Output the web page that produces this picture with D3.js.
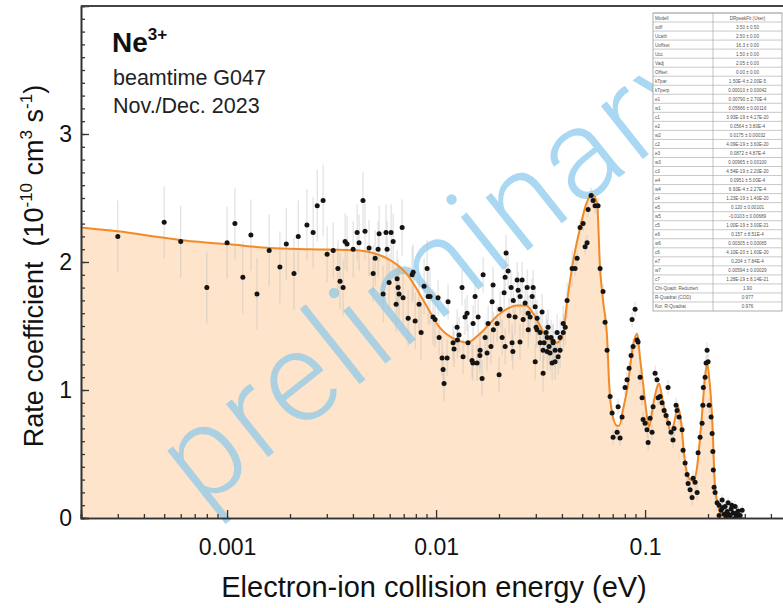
<!DOCTYPE html>
<html>
<head>
<meta charset="utf-8">
<script src="https://cdn.jsdelivr.net/npm/d3@7/dist/d3.min.js"></script>
<style>
  html, body { margin: 0; padding: 0; background: #fff; }
  svg { display: block; font-family: "Liberation Sans", Arial, Helvetica, sans-serif; }
</style>
</head>
<body>
<svg id="chart" width="783" height="608"></svg>
<script>
// Fitted DR rate coefficient (orange line), energy in eV, rate in 1e-10 cm^3 s^-1
const fitEnergy = [0.0002, 0.0003, 0.0005, 0.0007, 0.001, 0.0016, 0.0025, 0.0043, 0.0050, 0.0058,
  0.0066, 0.0073, 0.0087, 0.0104, 0.0126, 0.0141, 0.0162, 0.0203, 0.0244, 0.0270,
  0.0291, 0.0340, 0.0380, 0.0406, 0.0424, 0.0452, 0.0489, 0.0522, 0.0558, 0.0589,
  0.0609, 0.0629, 0.0658, 0.0673, 0.0695, 0.0735, 0.0751, 0.0785, 0.0829, 0.0876,
  0.0916, 0.0946, 0.0978, 0.1022, 0.1045, 0.1092, 0.1141, 0.1167, 0.1219, 0.1273,
  0.1331, 0.1376, 0.1438, 0.1487, 0.1537, 0.1606, 0.1697, 0.1774, 0.1853, 0.1937,
  0.1980, 0.2025, 0.2093, 0.2162, 0.2235, 0.2337, 0.2552, 0.3010];
const fitRate = [2.27, 2.24, 2.19, 2.16, 2.14, 2.11, 2.10, 2.09, 2.07, 2.03,
  1.97, 1.90, 1.70, 1.49, 1.39, 1.37, 1.44, 1.60, 1.66, 1.66,
  1.60, 1.41, 1.37, 1.45, 1.70, 2.00, 2.27, 2.45, 2.53, 2.46,
  1.95, 1.70, 1.41, 1.05, 0.82, 0.72, 0.72, 0.85, 1.05, 1.35,
  1.44, 1.25, 1.05, 0.79, 0.71, 0.88, 1.02, 1.05, 0.90, 0.78,
  0.67, 0.74, 0.87, 0.75, 0.50, 0.32, 0.29, 0.40, 0.72, 1.10,
  1.21, 1.10, 0.79, 0.24, 0.10, 0.03, 0.00, 0.00];

// Measured merged-beam rate coefficients [energy (eV), rate]
const measured = [
  [3.0e-4,2.20],[5.0e-4,2.31],[6.0e-4,2.16],[8.0e-4,1.80],[1.0e-3,2.15],[1.09e-3,2.30],[1.19e-3,1.88],
  [1.30e-3,2.21],[1.39e-3,1.75],[1.59e-3,2.09],[1.79e-3,1.96],[1.92e-3,2.14],[2.09e-3,1.91],[2.19e-3,2.20],
  [2.41e-3,2.29],[2.58e-3,2.23],[2.70e-3,2.44],[2.88e-3,2.48],[3.01e-3,2.06],[3.22e-3,2.09],[3.39e-3,1.95],
  [3.47e-3,1.85],[3.59e-3,1.80],[3.67e-3,2.16],[3.75e-3,2.14],[4.01e-3,2.10],[4.19e-3,2.23],[4.28e-3,2.15],
  [4.47e-3,2.48],[4.57e-3,2.24],[4.78e-3,2.11],[5.00e-3,1.91],[5.11e-3,2.03],[5.28e-3,2.10],[5.34e-3,2.22],
  [5.58e-3,1.75],[5.76e-3,2.23],[5.83e-3,2.10],[5.96e-3,1.84],[6.09e-3,2.23],[6.23e-3,2.16],[6.44e-3,1.67],
  [6.51e-3,1.87],[6.58e-3,1.80],[6.65e-3,1.75],[6.88e-3,2.27],[6.95e-3,1.72],[7.35e-3,1.56],[7.68e-3,1.90],
  [7.77e-3,1.92],[7.94e-3,1.54],[8.29e-3,1.67],[8.48e-3,1.45],[8.76e-3,1.81],[9.06e-3,1.95],[9.16e-3,1.73],
  [9.36e-3,1.73],[9.67e-3,1.57],[9.89e-3,1.55],
  [0.01022,1.72],[0.01034,1.41],[0.01068,1.25],[0.01080,1.16],[0.01092,1.05],[0.01129,1.25],[0.01141,1.69],
  [0.01206,1.37],[0.01219,1.32],[0.01260,1.49],[0.01265,1.39],[0.01288,1.43],[0.01331,1.80],[0.01346,1.26],
  [0.01376,1.57],[0.01407,1.60],[0.01422,1.37],[0.01486,1.23],[0.01500,1.21],[0.01503,1.52],[0.01537,1.73],
  [0.01571,1.21],[0.01589,1.57],[0.01620,1.27],[0.01624,1.31],[0.01660,1.09],[0.01679,1.90],[0.01716,1.41],
  [0.01754,1.29],[0.01774,1.52],[0.01830,1.34],[0.01854,1.69],[0.01874,1.82],[0.01880,1.47],[0.01958,1.52],
  [0.02002,1.12],[0.02025,1.63],[0.02070,1.41],[0.02116,1.76],[0.02139,1.88],[0.02140,1.34],[0.02162,2.07],
  [0.02211,1.93],[0.02235,1.58],[0.02285,1.80],[0.02310,1.37],[0.02330,1.30],[0.02340,1.70],[0.02388,1.57],
  [0.02442,1.86],[0.02469,1.78],[0.02520,1.375],[0.02524,1.73],[0.02580,1.86],[0.02609,1.55],[0.02667,1.68],
  [0.02727,1.80],[0.02757,1.60],[0.02760,1.47],[0.02818,1.57],[0.02881,1.73],[0.02913,1.80],[0.02978,1.65],
  [0.02980,1.22],[0.03010,1.49],[0.03040,1.47],[0.03044,1.56],[0.03145,1.45],[0.03150,1.37],[0.03215,1.61],
  [0.03251,1.13],[0.03250,1.31],[0.03287,1.37],[0.03360,1.45],[0.03398,1.30],[0.03400,1.41],[0.03435,1.49],
  [0.03473,1.34],[0.03510,1.29],[0.03551,1.41],[0.03590,1.21],[0.03630,1.38],[0.03630,1.37],[0.03711,1.31],
  [0.03710,1.22],[0.03794,1.45],[0.03836,1.26],[0.03920,1.31],[0.03921,1.41],[0.04055,1.52],[0.04060,1.45],
  [0.04150,1.49],
  [0.04235,1.70],[0.04474,1.95],[0.04624,1.95],[0.04728,2.03],[0.04887,2.27],[0.05051,2.30],[0.05164,2.12],
  [0.05279,2.15],[0.05338,2.41],[0.05516,2.52],[0.05639,2.48],[0.05765,2.44],[0.05958,2.44],[0.06091,1.95],
  [0.06294,1.77],[0.06435,1.53],[0.06579,1.31],[0.06800,0.95],[0.06953,0.82],[0.07030,0.63],[0.07345,0.67],
  [0.07426,0.87],[0.07592,0.625],[0.07761,0.79],[0.08021,1.02],[0.08199,1.08],[0.08382,1.17],[0.08569,1.27],
  [0.08664,1.55],[0.08760,1.34],[0.08956,1.63],[0.09155,1.39],[0.09257,1.375],[0.09463,1.10],[0.09675,0.94],
  [0.09782,0.77],[0.1000,0.74],[0.1022,0.69],[0.1034,0.59],[0.1057,0.78],[0.1080,0.67],[0.1092,0.87],
  [0.1116,1.13],[0.1141,1.08],[0.1154,0.94],[0.1180,0.95],[0.1206,0.90],[0.1233,0.84],[0.1260,0.80],
  [0.1288,1.02],[0.1295,0.74],[0.1331,0.67],[0.1361,0.61],[0.1376,0.70],[0.1407,0.88],[0.1422,0.84],
  [0.1454,0.79],[0.1503,0.69],[0.1520,0.53],[0.1554,0.43],[0.1589,0.34],[0.1606,0.27],[0.1642,0.22],
  [0.1678,0.16],[0.1697,0.31],[0.1735,0.28],[0.1774,0.20],[0.1793,0.51],[0.1833,0.63],[0.1874,0.74],
  [0.1890,0.88],[0.1900,1.02],[0.1937,1.10],[0.1958,1.21],[0.1980,1.31],[0.2002,1.22],[0.2025,0.88],
  [0.2070,0.79],[0.2093,0.66],[0.2110,0.52],[0.2120,0.375],[0.2139,0.24],[0.2162,0.20],[0.2211,0.12],
  [0.2260,0.10],[0.2310,0.06],[0.2337,0.14],[0.2390,0.03],[0.2414,0.09],[0.2440,0.00],[0.2468,0.05],
  [0.2496,0.12],[0.2552,0.02],[0.2580,0.07],[0.2638,0.04],[0.2650,-0.01],[0.2696,0.09],[0.2726,0.01],
  [0.2787,0.055],[0.2850,0.02],[0.2914,0.06],[0.2260,0.02],[0.2350,0.08],[0.2500,0.03],[0.2600,0.10],
  [0.2750,0.04]
];

// Statistical uncertainty by energy band (upper band edge in eV, half-width of error bar)
const errBandEdge = [0.003, 0.01, 0.045, 0.23, 1.0];
const errBandSize = [0.28, 0.22, 0.14, 0.06, 0.04];

// Axis ticks
const xMajorTicks = [0.001, 0.01, 0.1];
const xTickLabels = ["0.001", "0.01", "0.1"];
const yMajorTicks = [0, 1, 2, 3];
const yTickLabels = ["0", "1", "2", "3"];

// Fit parameter table
const tableLabels = ["Modell", "xoff", "Ucath", "Uoffset", "Ucc", "Vadj", "Offset", "kTpar", "kTperp",
  "e1", "w1", "c1", "e2", "w2", "c2", "e3", "w3", "c3", "e4", "w4", "c4",
  "e5", "w5", "c5", "e6", "w6", "c6", "e7", "w7", "c7",
  "Chi-Quadr. Reduziert", "R-Quadrat (COD)", "Kor. R-Quadrat"];
const tableValues = ["DRpeakFit (User)", "3.50 ± 0.50", "2.50 ± 0.00", "16.3 ± 0.00", "1.50 ± 0.00",
  "2.05 ± 0.00", "0.00 ± 0.00", "1.50E-4 ± 2.00E-5", "0.00010 ± 0.00042",
  "0.00790 ± 2.70E-4", "0.05666 ± 0.00116", "3.93E-19 ± 4.17E-20",
  "0.0564 ± 3.80E-4", "0.0175 ± 0.00032", "4.09E-19 ± 3.60E-20",
  "0.0872 ± 4.87E-4", "0.00965 ± 0.00100", "4.54E-19 ± 2.20E-20",
  "0.0951 ± 5.00E-4", "6.93E-4 ± 2.27E-4", "1.23E-19 ± 1.40E-20",
  "0.120 ± 0.00101", "-0.0103 ± 0.00689", "1.00E-19 ± 3.00E-21",
  "0.157 ± 8.51E-4", "0.00305 ± 0.00065", "4.10E-20 ± 1.60E-20",
  "0.204 ± 7.84E-4", "0.00594 ± 0.00029", "1.28E-19 ± 8.14E-21",
  "1.90", "0.977", "0.976"];

const svg = d3.select("#chart");
const plotLeft = 81, plotTop = 6, plotBottom = 518;
const decadePx = 209;

const x = d3.scaleLog().domain([0.0002, 0.5])
  .range([plotLeft, plotLeft + decadePx * Math.log10(0.5 / 0.0002)]);
const y = d3.scaleLinear().domain([0, 4]).range([plotBottom, plotTop]);

svg.append("defs").append("clipPath").attr("id", "plotClip")
  .append("rect").attr("x", plotLeft).attr("y", plotTop)
  .attr("width", 783 - plotLeft).attr("height", plotBottom - plotTop);

const fitData = fitEnergy.map((e, i) => [e, fitRate[i]]);

// Shaded area under the fit
svg.append("path")
  .datum(fitData)
  .attr("clip-path", "url(#plotClip)")
  .attr("fill", "#fde4ca")
  .attr("d", d3.area().x(d => x(d[0])).y0(y(0)).y1(d => y(d[1])).curve(d3.curveMonotoneX));

// "preliminary" watermark
svg.append("text")
  .attr("transform", "translate(434,266) rotate(-38.5)")
  .attr("text-anchor", "middle")
  .attr("dy", "0.36em")
  .attr("font-family", "Roboto, 'Liberation Sans', sans-serif")
  .attr("font-weight", 300)
  .attr("font-size", 128)
  .attr("letter-spacing", 4)
  .attr("fill", "#86c8ec")
  .attr("fill-opacity", 0.7)
  .text("preliminary");

const plot = svg.append("g").attr("clip-path", "url(#plotClip)");

// Error bars
const errOf = e => errBandSize[d3.bisectLeft(errBandEdge, e)];
plot.append("g").selectAll("line").data(measured).join("line")
  .attr("x1", d => x(d[0])).attr("x2", d => x(d[0]))
  .attr("y1", d => y(d[1] - errOf(d[0]))).attr("y2", d => y(d[1] + errOf(d[0])))
  .attr("stroke", "#bdbdbd").attr("stroke-opacity", 0.55).attr("stroke-width", 1);

// Fit line
plot.append("path")
  .datum(fitData)
  .attr("fill", "none")
  .attr("stroke", "#f28a26")
  .attr("stroke-width", 2)
  .attr("d", d3.line().x(d => x(d[0])).y(d => y(d[1])).curve(d3.curveMonotoneX));

// Data points
plot.append("g").selectAll("circle").data(measured).join("circle")
  .attr("cx", d => x(d[0])).attr("cy", d => y(d[1])).attr("r", 2.5)
  .attr("fill", "#141414");

// Axes
const axisColor = "#333";
const xAxis = svg.append("g").attr("transform", `translate(0,${plotBottom})`);
const xMinor = [];
for (let k = -4; k <= -1; k++) for (let m = 2; m <= 9; m++) {
  const v = m * Math.pow(10, k);
  if (v >= 0.0002 && v <= 0.5) xMinor.push(v);
}
xAxis.call(d3.axisBottom(x).tickValues(xMinor).tickSize(-4).tickFormat(""));
xAxis.append("g").call(d3.axisBottom(x).tickValues(xMajorTicks).tickSize(-8).tickPadding(21)
  .tickFormat((d, i) => xTickLabels[i]));
xAxis.selectAll(".domain").attr("stroke", axisColor).attr("stroke-width", 1.6);
xAxis.selectAll(".tick line").attr("stroke", axisColor).attr("stroke-width", 1.3);
xAxis.selectAll(".tick text").attr("font-size", 23).attr("fill", "#111")
  .attr("font-family", "Liberation Sans, Arial, sans-serif");

const yAxis = svg.append("g").attr("transform", `translate(${plotLeft},0)`);
yAxis.call(d3.axisLeft(y).ticks(40).tickSize(-4).tickFormat(""));
yAxis.append("g").call(d3.axisLeft(y).tickValues(yMajorTicks).tickSize(-8).tickPadding(9)
  .tickFormat((d, i) => yTickLabels[i]));
yAxis.selectAll(".domain").attr("stroke", axisColor).attr("stroke-width", 1.6);
yAxis.selectAll(".tick line").attr("stroke", axisColor).attr("stroke-width", 1.3);
yAxis.selectAll(".tick text").attr("font-size", 23).attr("fill", "#111")
  .attr("font-family", "Liberation Sans, Arial, sans-serif");

// Top frame line
svg.append("line").attr("x1", plotLeft).attr("x2", 783).attr("y1", plotTop).attr("y2", plotTop)
  .attr("stroke", "#444").attr("stroke-width", 2);

// Axis titles
svg.append("text")
  .attr("x", 434).attr("y", 597).attr("text-anchor", "middle")
  .attr("font-size", 29).attr("fill", "#111")
  .text("Electron-ion collision energy (eV)");

const yTitle = svg.append("text")
  .attr("transform", "translate(43,266) rotate(-90)")
  .attr("text-anchor", "middle")
  .attr("font-size", 27).attr("fill", "#111");
yTitle.append("tspan").text("Rate coefficient\u00a0 (10");
yTitle.append("tspan").attr("dy", -11).attr("font-size", 17).text("-10");
yTitle.append("tspan").attr("dy", 11).text(" cm");
yTitle.append("tspan").attr("dy", -11).attr("font-size", 17).text("3");
yTitle.append("tspan").attr("dy", 11).text(" s");
yTitle.append("tspan").attr("dy", -11).attr("font-size", 17).text("-1");
yTitle.append("tspan").attr("dy", 11).text(")");

// Ion label and beamtime annotation
const ion = svg.append("text").attr("x", 112).attr("y", 52)
  .attr("font-size", 28).attr("font-weight", "bold").attr("fill", "#111");
ion.append("tspan").text("Ne");
ion.append("tspan").attr("dy", -12).attr("font-size", 17).text("3+");
svg.append("text").attr("x", 113).attr("y", 85).attr("font-size", 21.5).attr("fill", "#222")
  .text("beamtime G047");
svg.append("text").attr("x", 113).attr("y", 113).attr("font-size", 21.5).attr("fill", "#222")
  .text("Nov./Dec. 2023");

// Fit parameter table
const tX = 653, tY = 13, tW1 = 60, tW2 = 69, rowH = (311 - 13) / tableLabels.length;
const table = svg.append("g");
table.append("rect").attr("x", tX).attr("y", tY).attr("width", tW1 + tW2)
  .attr("height", rowH * tableLabels.length).attr("fill", "#fff")
  .attr("stroke", "#9a9a9a").attr("stroke-width", 0.8);
const rows = table.selectAll("g.row").data(tableLabels).join("g").attr("class", "row")
  .attr("transform", (d, i) => `translate(${tX},${tY + i * rowH})`);
rows.append("line").attr("x1", 0).attr("x2", tW1 + tW2).attr("y1", 0).attr("y2", 0)
  .attr("stroke", "#a5a5a5").attr("stroke-width", 0.6);
rows.append("text").attr("x", 2).attr("y", rowH * 0.72).attr("font-size", 4.6).attr("fill", "#555")
  .text(d => d);
rows.append("text").attr("x", tW1 + tW2 / 2).attr("y", rowH * 0.72).attr("text-anchor", "middle")
  .attr("font-size", 4.6).attr("fill", "#555").text((d, i) => tableValues[i]);
table.append("line").attr("x1", tX + tW1).attr("x2", tX + tW1)
  .attr("y1", tY).attr("y2", tY + rowH * tableLabels.length)
  .attr("stroke", "#9a9a9a").attr("stroke-width", 0.6);
</script>
</body>
</html>
